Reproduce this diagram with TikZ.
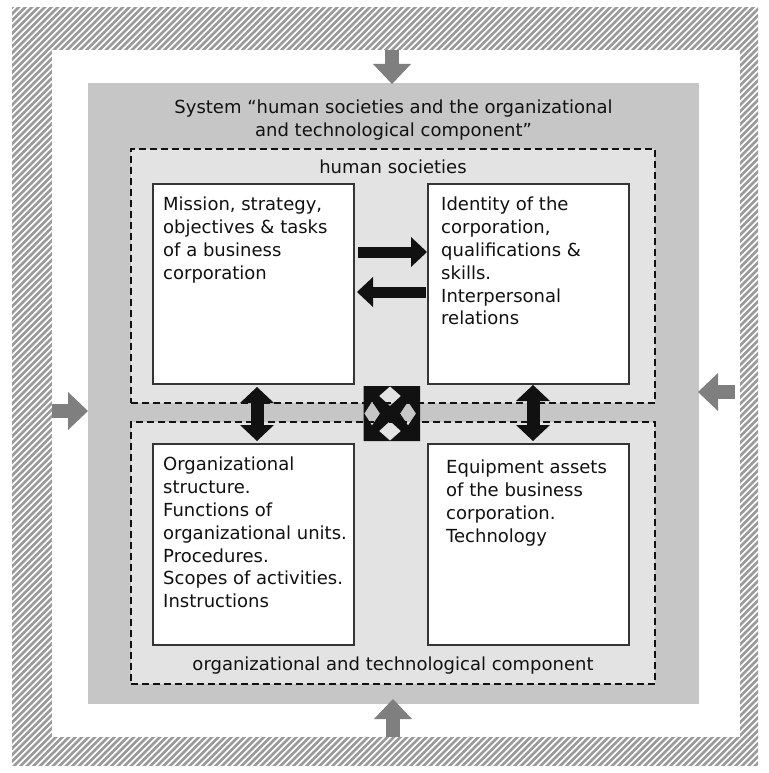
\documentclass[tikz,border=0pt]{standalone}
\usepackage{fontspec}
\setmainfont{DejaVu Sans}
\usetikzlibrary{arrows.meta}
\definecolor{sysgray}{HTML}{C6C6C6}
\definecolor{subgray}{HTML}{E3E3E3}
\definecolor{arrgray}{HTML}{7F7F7F}
\definecolor{hatchgray}{HTML}{9A9A9A}
\definecolor{ink}{HTML}{111111}
\begin{document}
\begin{tikzpicture}[x=1pt,y=-1pt,
  txt/.style={font=\fontsize{18}{22.8}\selectfont, inner sep=0pt, text=ink},
  boxtxt/.style={txt, anchor=north west, align=left},
  wbox/.style={draw=ink!85, line width=1.3pt, fill=white, minimum width=201pt, minimum height=200pt, inner sep=0pt},
  dbox/.style={draw=ink, dash pattern=on 7pt off 4pt, line width=1.3pt, fill=subgray, minimum width=524pt, inner sep=0pt},
  blkarrow/.style={draw=ink, line width=11pt, -{Triangle[width=30pt,length=16pt,line width=0pt]}},
  vblk/.style={draw=ink, line width=13pt, {Triangle[width=34pt,length=16pt,line width=0pt]}-{Triangle[width=34pt,length=16pt,line width=0pt]}},
  gblk/.style={draw=arrgray, line width=14pt, -{Triangle[width=38pt,length=20pt,line width=0pt]}}
]
\useasboundingbox (0,0) rectangle (768,773);
% hatched frame
\begin{scope}
  \clip (12,8) rectangle (758,765);
  \foreach \i in {-780,-773.5,...,790} {
    \draw[hatchgray, line width=2.6pt] (\i,780) -- (\i+780,0);
  }
\end{scope}
\fill[white] (52,50) rectangle (740,737);
% system box
\node[fill=sysgray, minimum width=611pt, minimum height=621pt, inner sep=0pt] (sys) at (393.5,393.5) {};
\node[txt, align=center] (title) at (393.5,120) {System “human societies and the organizational\\and technological component”};
% dashed sub-systems
\node[dbox, minimum height=254pt] (hs) at (393,276) {};
\node[dbox, minimum height=262pt] (otc) at (393,553) {};
\node[txt] (hslabel) at (393,167) {human societies};
\node[txt] (otclabel) at (393,666) {organizational and technological component};
% white boxes
\node[wbox] (tl) at (253.5,284) {};
\node[wbox] (tr) at (528.5,284) {};
\node[wbox, minimum height=201pt] (bl) at (253.5,544.5) {};
\node[wbox, minimum height=201pt] (br) at (528.5,544.5) {};
\node[boxtxt] (tltext) at (163,197) {Mission, strategy,\\objectives \& tasks\\of a business\\corporation};
\node[boxtxt] (trtext) at (441,197) {Identity of the\\corporation,\\qualifications \&\\skills.\\Interpersonal\\relations};
\node[boxtxt] (bltext) at (163,457) {Organizational\\structure.\\Functions of\\organizational units.\\Procedures.\\Scopes of activities.\\Instructions};
\node[boxtxt] (brtext) at (446,460) {Equipment assets\\of the business\\corporation.\\Technology};
% black arrows between boxes
\coordinate (r1s) at (358,252);
\coordinate (r1e) at (427,252);
\coordinate (l1s) at (426,292);
\coordinate (l1e) at (357,292);
\draw[blkarrow] (r1s) -- (r1e);
\draw[blkarrow] (l1s) -- (l1e);
\coordinate (v1a) at (257,387);
\coordinate (v1b) at (257,441);
\coordinate (v2a) at (533,385);
\coordinate (v2b) at (533,441);
\draw[vblk] (v1a) -- (v1b);
\draw[vblk] (v2a) -- (v2b);
% central cross arrow
\coordinate (xc) at (390,413.5);
\fill[ink, even odd rule] (363.5,386) rectangle (420,441)
  (390,386.3) -- (401,396) -- (390,406) -- (379,396) -- cycle
  (390,440.7) -- (401,431) -- (390,421) -- (379,431) -- cycle
  (364.3,413.5) -- (372,401.5) -- (380,413.5) -- (372,425.5) -- cycle
  (416,413.5) -- (408,401.5) -- (400,413.5) -- (408,425.5) -- cycle;
% external gray arrows
\coordinate (ta) at (392,50);
\coordinate (tb) at (392,84);
\coordinate (ba) at (393,737);
\coordinate (bb) at (393,699);
\coordinate (la) at (52,411);
\coordinate (lb) at (88,411);
\coordinate (ra) at (735,392);
\coordinate (rb) at (698,392);
\draw[gblk] (ta) -- (tb);
\draw[gblk] (ba) -- (bb);
\draw[gblk] (la) -- (lb);
\draw[gblk] (ra) -- (rb);
\end{tikzpicture}
\end{document}
